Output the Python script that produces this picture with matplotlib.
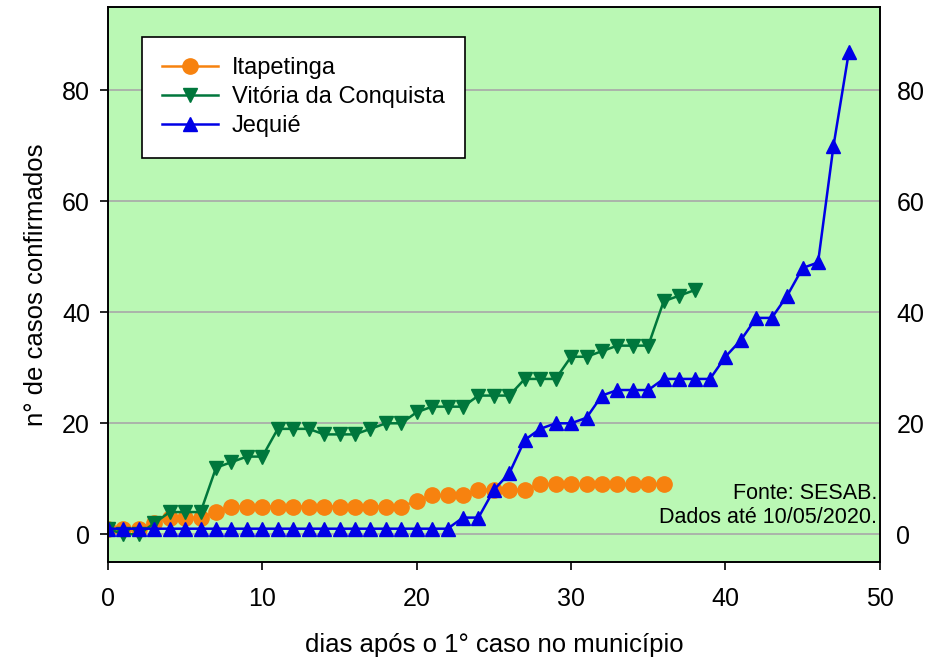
import matplotlib.pyplot as plt

plt.rcParams['font.family'] = ['Liberation Sans', 'DejaVu Sans']

# casos confirmados acumulados por dia após o 1° caso
itapetinga = [1, 1, 1, 2, 3, 3, 3, 4, 5, 5, 5, 5, 5, 5, 5, 5, 5, 5, 5, 5,
              6, 7, 7, 7, 8, 8, 8, 8, 9, 9, 9, 9, 9, 9, 9, 9, 9]
vitoria = [1, 0, 0, 2, 4, 4, 4, 12, 13, 14, 14, 19, 19, 19, 18, 18, 18, 19, 20, 20,
           22, 23, 23, 23, 25, 25, 25, 28, 28, 28, 32, 32, 33, 34, 34, 34, 42, 43, 44]
jequie = [1] * 23 + [3, 3, 8, 11, 17, 19, 20, 20, 21, 25, 26, 26, 26, 28, 28, 28, 28,
                     32, 35, 39, 39, 43, 48, 49, 70, 87]

series = [
    ("Itapetinga", itapetinga, "#F7820F", "o", 11),
    ("Vitória da Conquista", vitoria, "#00773C", "v", 10.5),
    ("Jequié", jequie, "#0000E6", "^", 10.5),
]

fig = plt.figure(figsize=(9.31, 6.61), dpi=100)
ax = fig.add_axes([0.116, 0.1498, 0.829, 0.8392])
ax.set_facecolor("#BAF8B4")

for nome, valores, cor, marcador, tam in series:
    ax.plot(range(len(valores)), valores, color=cor, marker=marcador,
            markersize=tam, linewidth=1.8, label=nome)

ax.set_xlim(0, 50)
ax.set_ylim(-5, 95)
ax.set_xticks([0, 10, 20, 30, 40, 50])
ax.set_yticks([0, 20, 40, 60, 80])
ax.grid(axis="y", color="#A8A8A8", linewidth=1.2)
ax.set_axisbelow(True)
ax.tick_params(axis="both", labelsize=18, direction="out", length=6, width=1.2)
ax.tick_params(axis="x", pad=12)
ax.tick_params(axis="y", pad=7)

ax2 = ax.twinx()
ax2.set_ylim(ax.get_ylim())
ax2.set_yticks([0, 20, 40, 60, 80])
ax2.tick_params(axis="y", labelsize=18, length=0, pad=12)

for a in (ax, ax2):
    for s in a.spines.values():
        s.set_linewidth(1.2)

ax.set_xlabel("dias após o 1° caso no município", fontsize=18.5, labelpad=16)
ax.set_ylabel("n° de casos confirmados", fontsize=18.5, labelpad=10)

ax.text(0.997, 0.062, "Fonte: SESAB.\nDados até 10/05/2020.", transform=ax.transAxes,
        ha="right", va="bottom", fontsize=15.5, linespacing=1.15)

leg = ax.legend(loc="upper left", bbox_to_anchor=(0.044, 0.946), borderaxespad=0,
                fontsize=17, fancybox=False, framealpha=1, edgecolor="black",
                handlelength=2.35, handletextpad=0.6, labelspacing=0.3,
                borderpad=0.85)
leg.get_frame().set_linewidth(1.2)

fig.savefig("out.png", dpi=100)
